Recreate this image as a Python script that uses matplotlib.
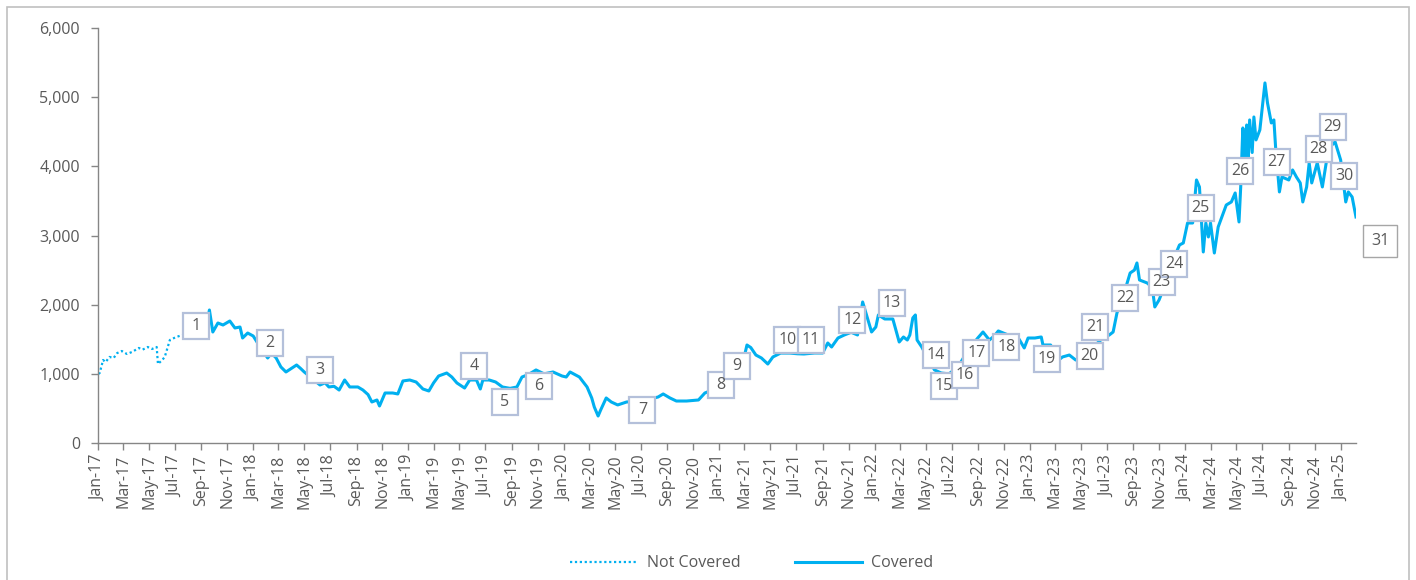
import pandas as pd
import matplotlib.pyplot as plt
import matplotlib.dates as mdates
from matplotlib.patches import Rectangle
from matplotlib.lines import Line2D
from matplotlib.ticker import FuncFormatter

plt.rcParams["font.family"] = ["Open Sans", "DejaVu Sans"]

# price series before coverage started (dotted)
nc_dates = ["2017-01-02", "2017-01-05", "2017-01-13", "2017-01-19", "2017-01-28", "2017-02-07",
            "2017-02-15", "2017-02-26", "2017-03-10", "2017-03-22", "2017-04-07", "2017-04-16",
            "2017-04-28", "2017-05-08", "2017-05-19", "2017-05-22", "2017-06-01", "2017-06-07",
            "2017-06-19", "2017-07-04", "2017-07-19", "2017-08-01", "2017-08-16"]
nc_values = [1000, 1012, 1200, 1170, 1244, 1230, 1300, 1330, 1287, 1316, 1374, 1350,
             1388, 1359, 1388, 1142, 1200, 1244, 1489, 1533, 1562, 1580, 1600]

# price series once covered (solid)
cv_dates = ["2017-08-16", "2017-09-01", "2017-09-13", "2017-09-20", "2017-09-28", "2017-10-10",
            "2017-10-22", "2017-11-07", "2017-11-19", "2017-12-01", "2017-12-07", "2017-12-19",
            "2018-01-01", "2018-01-16", "2018-02-04", "2018-02-13", "2018-02-24", "2018-03-07",
            "2018-03-19", "2018-04-01", "2018-04-13", "2018-04-22", "2018-05-01", "2018-05-16",
            "2018-06-07", "2018-06-19", "2018-06-28", "2018-07-10", "2018-07-22", "2018-08-04",
            "2018-08-16", "2018-09-04", "2018-09-16", "2018-09-28", "2018-10-07", "2018-10-19",
            "2018-10-25", "2018-11-07", "2018-11-25", "2018-12-07", "2018-12-19", "2019-01-04",
            "2019-01-19", "2019-02-04", "2019-02-18", "2019-03-01", "2019-03-13", "2019-04-01",
            "2019-04-13", "2019-04-25", "2019-05-13", "2019-05-25", "2019-06-10", "2019-06-19",
            "2019-06-25", "2019-07-10", "2019-07-25", "2019-08-10", "2019-08-28", "2019-09-13",
            "2019-09-25", "2019-10-10", "2019-10-28", "2019-11-16", "2019-12-07", "2019-12-28",
            "2020-01-07", "2020-01-16", "2020-02-07", "2020-02-25", "2020-03-07", "2020-03-13",
            "2020-03-22", "2020-03-28", "2020-04-10", "2020-04-22", "2020-05-07", "2020-05-28",
            "2020-06-16", "2020-07-10", "2020-07-25", "2020-08-10", "2020-08-22", "2020-09-07",
            "2020-09-22", "2020-10-16", "2020-11-13", "2020-11-28", "2020-12-13", "2021-01-01",
            "2021-01-19", "2021-02-07", "2021-02-25", "2021-03-07", "2021-03-16", "2021-03-28",
            "2021-04-10", "2021-04-25", "2021-05-07", "2021-05-25", "2021-06-16", "2021-07-04",
            "2021-07-19", "2021-08-13", "2021-09-01", "2021-09-13", "2021-09-22", "2021-10-07",
            "2021-10-22", "2021-11-07", "2021-11-22", "2021-12-04", "2021-12-13", "2021-12-25",
            "2022-01-04", "2022-01-10", "2022-01-25", "2022-02-13", "2022-02-22", "2022-02-28",
            "2022-03-10", "2022-03-19", "2022-03-25", "2022-04-01", "2022-04-07", "2022-04-11",
            "2022-04-22", "2022-05-04", "2022-05-22", "2022-06-07", "2022-06-25", "2022-07-16",
            "2022-08-10", "2022-09-01", "2022-09-07", "2022-09-13", "2022-09-28", "2022-10-10",
            "2022-10-19", "2022-11-16", "2022-12-07", "2022-12-19", "2022-12-28", "2023-01-13",
            "2023-01-28", "2023-02-01", "2023-02-19", "2023-03-01", "2023-03-10", "2023-03-19",
            "2023-04-04", "2023-04-19", "2023-05-10", "2023-06-01", "2023-06-19", "2023-07-07",
            "2023-07-16", "2023-07-25", "2023-08-10", "2023-08-25", "2023-09-04", "2023-09-10",
            "2023-09-16", "2023-10-04", "2023-10-16", "2023-10-22", "2023-11-01", "2023-11-16",
            "2023-12-01", "2023-12-19", "2023-12-28", "2024-01-07", "2024-01-19", "2024-01-28",
            "2024-02-04", "2024-02-13", "2024-02-19", "2024-02-25", "2024-03-01", "2024-03-10",
            "2024-03-19", "2024-04-07", "2024-04-19", "2024-04-28", "2024-05-07", "2024-05-11",
            "2024-05-16", "2024-05-20", "2024-05-25", "2024-05-28", "2024-06-01", "2024-06-07",
            "2024-06-11", "2024-06-16", "2024-06-25", "2024-07-07", "2024-07-13", "2024-07-22",
            "2024-07-28", "2024-08-01", "2024-08-10", "2024-08-16", "2024-09-01", "2024-09-10",
            "2024-09-19", "2024-09-28", "2024-10-04", "2024-10-13", "2024-10-19", "2024-10-25",
            "2024-11-07", "2024-11-19", "2024-11-28", "2024-12-10", "2024-12-19", "2025-01-01",
            "2025-01-13", "2025-01-19", "2025-01-28", "2025-02-06"]
cv_values = [1600, 1650, 1700, 1923, 1605, 1735,
             1706, 1764, 1663, 1677, 1518, 1590,
             1547, 1400, 1229, 1300, 1229, 1100,
             1027, 1080, 1128, 1080, 1027, 950,
             839, 870, 810, 820, 766, 911,
             810, 810, 766, 700, 593, 622,
             535, 723, 723, 709, 897, 911,
             882, 781, 752, 868, 969, 1012,
             954, 868, 795, 911, 911, 781,
             911, 911, 882, 810, 790, 810,
             954, 990, 1056, 1000, 1027, 969,
             954, 1027, 954, 810, 651, 521,
             390, 477, 651, 593, 550, 593,
             600, 630, 640, 665, 709, 651,
             607, 607, 622, 723, 760, 800,
             900, 1050, 1150, 1417, 1380, 1272,
             1229, 1142, 1244, 1300, 1300, 1290,
             1287, 1301, 1301, 1446, 1388, 1518,
             1562, 1600, 1562, 2039, 1851, 1605,
             1677, 1851, 1793, 1793, 1590, 1460,
             1533, 1489, 1562, 1808, 1851, 1489,
             1388, 1250, 1056, 1012, 1000, 1100,
             1350, 1520, 1562, 1605, 1489, 1550,
             1620, 1550, 1500, 1374, 1518, 1518,
             1533, 1417, 1417, 1300, 1200, 1244,
             1272, 1200, 1250, 1400, 1500, 1562,
             1605, 1880, 2150, 2458, 2500, 2603,
             2357, 2314, 2250, 1967, 2068, 2300,
             2600, 2863, 2892, 3181, 3181, 3803,
             3702, 2762, 3181, 2979, 3181, 2747,
             3123, 3441, 3485, 3615, 3196, 3702,
             4555, 4136, 4598, 3948, 4671, 4200,
             4714, 4382, 4526, 5206, 4916, 4627,
             4671, 4280, 3630, 3846, 3803, 3948,
             3846, 3760, 3485, 3702, 4049, 3760,
             4050, 3702, 4049, 4300, 4353, 4092,
             3485, 3630, 3557, 3268]

# numbered event markers
ev_labels = [str(i) for i in range(1, 32)]
ev_dates = ["2017-08-20", "2018-02-10", "2018-06-07", "2019-06-04", "2019-08-16", "2019-11-04",
            "2020-07-04", "2021-01-04", "2021-02-12", "2021-06-10", "2021-08-04", "2021-11-10",
            "2022-02-10", "2022-05-25", "2022-06-13", "2022-08-01", "2022-08-28", "2022-11-07",
            "2023-02-10", "2023-05-22", "2023-06-04", "2023-08-13", "2023-11-07", "2023-12-07",
            "2024-02-07", "2024-05-10", "2024-08-04", "2024-11-10", "2024-12-13", "2025-01-10",
            "2025-04-04"]
ev_values = [1692, 1446, 1056, 1113, 593, 824, 477, 839, 1113, 1489, 1489, 1779,
             2024, 1272, 824, 983, 1301, 1388, 1215, 1258, 1677, 2097, 2328, 2588,
             3398, 3933, 4063, 4251, 4569, 3861, 2921]

line_col = "#00B0F0"
txt_col = "#595959"
axis_col = "#868686"

fig = plt.figure(figsize=(14.16, 5.80), dpi=100)
ax = fig.add_axes([0.0692, 0.2362, 0.8884, 0.7155])

ax.plot(pd.to_datetime(nc_dates), nc_values, color=line_col, lw=1.6, linestyle=(0, (1, 1.2)), zorder=2)
ax.plot(pd.to_datetime(cv_dates), cv_values, color=line_col, lw=2.2, zorder=2)

ev_x = pd.to_datetime(ev_dates)
for lab, x, y in zip(ev_labels, ev_x, ev_values):
    if lab == "31":
        ax.text(x, y, lab, ha="center", va="center", fontsize=11.5, color=txt_col, zorder=5,
                clip_on=False,
                bbox=dict(boxstyle="square,pad=0.5", fc="white", ec="#A6A6A6", lw=1.0))
    else:
        ax.plot([x], [y], marker="s", markersize=19.2, mfc="white", mec="#B4C0DA", mew=1.6,
                linestyle="none", zorder=4, clip_on=False)
        ax.text(x, y, lab, ha="center", va="center", fontsize=11.5, color=txt_col, zorder=5)

ax.set_xlim(pd.Timestamp("2017-01-01"), pd.Timestamp("2025-02-06"))
ax.set_ylim(0, 6000)
ax.set_yticks(range(0, 6001, 1000))
ax.yaxis.set_major_formatter(FuncFormatter(lambda v, p: f"{int(v):,}"))

ax.xaxis.set_major_locator(mdates.MonthLocator(bymonth=[1, 3, 5, 7, 9, 11]))
ax.xaxis.set_major_formatter(mdates.DateFormatter("%b-%y"))
plt.setp(ax.get_xticklabels(), rotation=90)

for s in ["top", "right"]:
    ax.spines[s].set_visible(False)
for s in ["left", "bottom"]:
    ax.spines[s].set_color(axis_col)
    ax.spines[s].set_linewidth(1.0)
ax.tick_params(axis="both", colors=axis_col, labelcolor=txt_col, labelsize=11.5, length=5, width=1.0)
ax.tick_params(axis="y", pad=8)

handles = [Line2D([], [], color=line_col, lw=1.6, linestyle=(0, (1, 1.2))),
           Line2D([], [], color=line_col, lw=2.2)]
fig.legend(handles, ["Not Covered", "Covered"], loc="center", bbox_to_anchor=(0.531, 0.029),
           ncol=2, frameon=False, fontsize=11.5, labelcolor=txt_col, handlelength=4.2,
           handletextpad=0.6, columnspacing=3.4)

fig.add_artist(Rectangle((7 / 1416, -0.05), 1402 / 1416, 1.05 - 7 / 580, transform=fig.transFigure,
                         fill=False, edgecolor="#C0C0C0", lw=1.2))

fig.savefig("out.png", dpi=100)
